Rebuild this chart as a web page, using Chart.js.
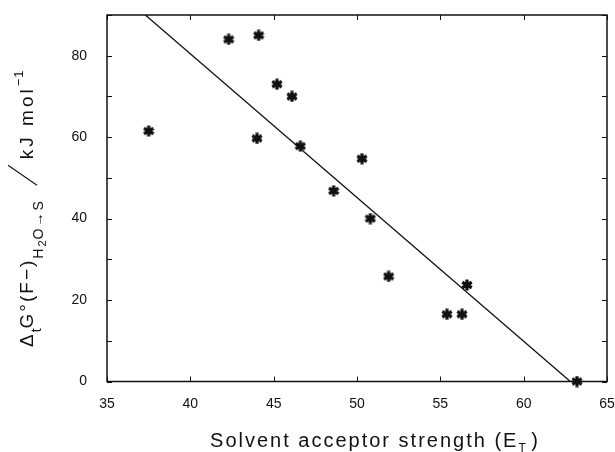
<!DOCTYPE html>
<html>
<head>
<meta charset="utf-8">
<script src="https://cdn.jsdelivr.net/npm/chart.js@4/dist/chart.umd.min.js"></script>
<style>
  html, body { margin: 0; padding: 0; background: #fff; }
  #wrap { width: 615px; height: 452px; position: relative; }
</style>
</head>
<body>
<div id="wrap"><canvas id="chart-et"></canvas></div>
<script>
/* ── DATA ── */
const solventET = [37.5, 42.3, 44.1, 45.2, 46.1, 44.0, 46.6, 50.3, 48.6, 50.8, 51.9, 56.6, 55.4, 56.3, 63.2];
const deltaG    = [61.5, 84.0, 85.0, 73.0, 70.0, 59.7, 57.8, 54.7, 46.8, 40.0, 25.8, 23.7, 16.5, 16.5, 0.0];

// fitted straight line, ends where it meets the frame
const fitX = [37.3, 62.8];
const fitY = [90, 0];

const xTicks = [35, 40, 45, 50, 55, 60, 65];
const yTicks = [0, 10, 20, 30, 40, 50, 60, 70, 80, 90];
const yLabelled = [0, 20, 40, 60, 80];

const INK = '#111';
const FONT = '"Liberation Sans", Arial, sans-serif';

/* ── MARKER: six-armed asterisk ── */
function makeAsterisk(size) {
  const c = document.createElement('canvas');
  c.width = c.height = size;
  const g = c.getContext('2d');
  const m = size / 2, r = size / 2 - 0.5;
  g.strokeStyle = INK;
  g.lineWidth = 3.2;
  [90, 30, 150].forEach(a => {
    const rad = a * Math.PI / 180;
    g.beginPath();
    g.moveTo(m - r * Math.cos(rad), m - r * Math.sin(rad));
    g.lineTo(m + r * Math.cos(rad), m + r * Math.sin(rad));
    g.stroke();
  });
  g.fillStyle = INK;
  g.beginPath(); g.arc(m, m, 3, 0, Math.PI * 2); g.fill();
  return c;
}

/* ── FRAME + INWARD TICKS ── */
const framePlugin = {
  id: 'frame',
  afterDatasetsDraw(chart) {
    const { ctx, chartArea: a, scales } = chart;
    ctx.save();
    ctx.strokeStyle = INK;
    ctx.lineWidth = 1.5;
    ctx.strokeRect(a.left, a.top, a.right - a.left, a.bottom - a.top);
    ctx.lineWidth = 1;
    ctx.beginPath();
    yTicks.forEach(v => {
      const y = Math.round(scales.y.getPixelForValue(v)) + 0.5;
      ctx.moveTo(a.left, y);  ctx.lineTo(a.left + 5, y);
      ctx.moveTo(a.right, y); ctx.lineTo(a.right - 5, y);
    });
    xTicks.forEach(v => {
      const x = Math.round(scales.x.getPixelForValue(v)) + 0.5;
      ctx.moveTo(x, a.bottom); ctx.lineTo(x, a.bottom - 5);
      ctx.moveTo(x, a.top);    ctx.lineTo(x, a.top + 5);
    });
    ctx.stroke();
    ctx.restore();
  },
};

/* ── AXIS TITLES (sub/superscripts drawn piece by piece) ── */
function drawRun(ctx, parts, x, y) {
  // parts: [text, fontSize, baselineShift, spacing]
  let pen = x;
  parts.forEach(([txt, size, shift, sp]) => {
    ctx.font = `${size}px ${FONT}`;
    ctx.letterSpacing = `${sp || 0}px`;
    ctx.fillText(txt, pen, y + shift);
    pen += ctx.measureText(txt).width;
  });
  ctx.letterSpacing = '0px';
  return pen;
}

const titlePlugin = {
  id: 'titles',
  afterDraw(chart) {
    const { ctx } = chart;
    ctx.save();
    ctx.fillStyle = INK;
    ctx.textBaseline = 'alphabetic';
    ctx.textAlign = 'left';

    // x title
    const xParts = [['Solvent acceptor strength (E', 20, 0, 2], ['T', 12, 5, 0], [' )', 20, 0, 0]];
    ctx.font = `20px ${FONT}`;
    ctx.letterSpacing = '2px';
    let w = ctx.measureText('Solvent acceptor strength (E').width;
    ctx.font = `12px ${FONT}`; ctx.letterSpacing = '0px';
    w += ctx.measureText('T').width;
    ctx.font = `20px ${FONT}`;
    w += ctx.measureText(' )').width;
    drawRun(ctx, xParts, 374 - w / 2, 447);

    // y title, rotated
    ctx.translate(33, 347);
    ctx.rotate(-Math.PI / 2);
    let pen = drawRun(ctx, [
      ['\u0394', 19, 0, 2],
      ['t', 14, 8, 0],
      ['G\u00b0(F\u2212)', 19, 0, 2],
      ['H', 14, 10, 2],
      ['2', 11, 13, 1],
      ['O\u2192S', 14, 10, 2],
    ], 0, 0);
    ctx.lineWidth = 1.1;
    ctx.strokeStyle = INK;
    ctx.beginPath();
    ctx.moveTo(pen + 14, 4);
    ctx.lineTo(pen + 34, -25);
    ctx.stroke();
    drawRun(ctx, [
      ['kJ mol', 19, 0, 3],
      ['\u22121', 13, -10, 1],
    ], pen + 40, 0);
    ctx.restore();
  },
};

/* ── CHART ── */
const points = solventET.map((x, i) => ({ x, y: deltaG[i] }));
const fitLine = fitX.map((x, i) => ({ x, y: fitY[i] }));

// let the frame sit exactly where the figure has it
function noEdgePad(s) {
  s.paddingTop = 0; s.paddingBottom = 0;
  s.paddingLeft = 0; s.paddingRight = 0;
}

new Chart(document.getElementById('chart-et'), {
  type: 'scatter',
  data: {
    datasets: [
      {
        data: fitLine,
        showLine: true,
        borderColor: INK,
        borderWidth: 1.3,
        pointRadius: 0,
        order: 2,
      },
      {
        data: points,
        pointStyle: makeAsterisk(12),
        pointRadius: 6,
        clip: false,
        order: 1,
      },
    ],
  },
  options: {
    responsive: true, maintainAspectRatio: false,
    animation: false,
    layout: { padding: { top: 15, right: 8, left: 0, bottom: 0 } },
    plugins: { legend: { display: false }, tooltip: { enabled: false } },
    scales: {
      x: {
        min: 35, max: 65,
        grid: { display: false, drawTicks: false },
        border: { display: false },
        afterFit: s => { s.height = 70.5; noEdgePad(s); },
        ticks: {
          stepSize: 5, padding: 14, color: INK,
          font: { family: FONT, size: 14 },
        },
      },
      y: {
        min: 0, max: 90,
        grid: { display: false, drawTicks: false },
        border: { display: false },
        afterFit: s => { s.width = 107; noEdgePad(s); },
        ticks: {
          stepSize: 10, padding: 20, color: INK, autoSkip: false,
          font: { family: FONT, size: 14 },
          callback: v => yLabelled.includes(v) ? v : '',
        },
      },
    },
  },
  plugins: [framePlugin, titlePlugin],
});
</script>
</body>
</html>
